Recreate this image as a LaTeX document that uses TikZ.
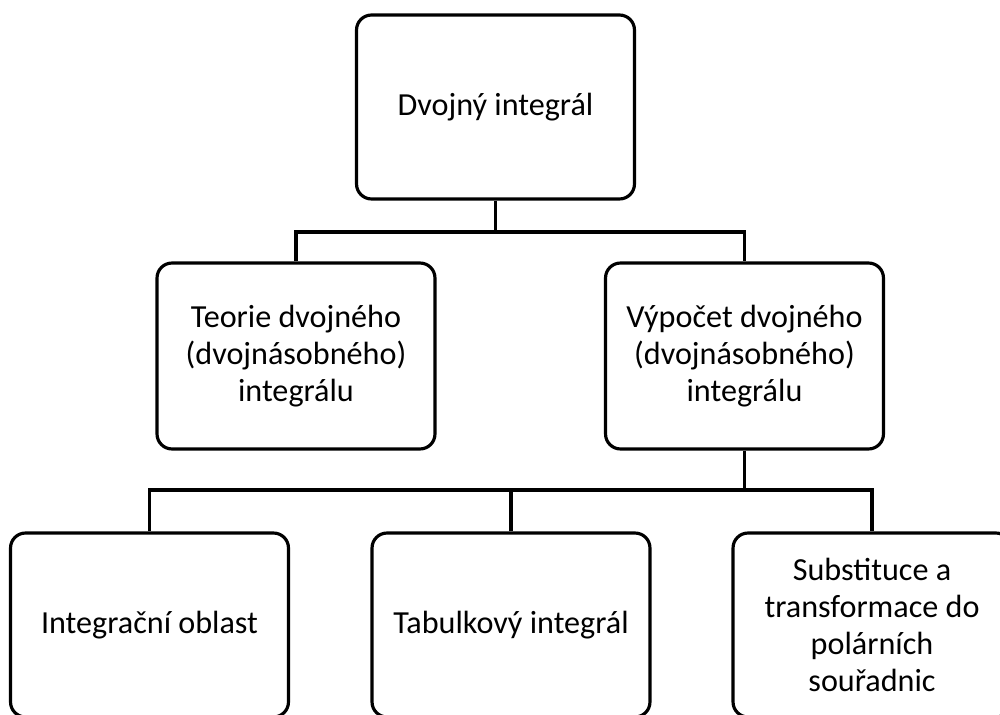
\documentclass[tikz,border=0pt]{standalone}
\usepackage{fontspec}
\setmainfont{Carlito}
\usetikzlibrary{positioning}

\tikzset{
	topic/.style={draw=black, line width=1.8pt, rounded corners=0.3cm, fill=white,
		minimum width=5.56cm, minimum height=3.68cm, align=center, inner sep=2pt,
		font=\fontsize{18.3}{21}\selectfont},
	branch/.style={draw=black, line width=1.8pt}
}

\begin{document}
\begin{tikzpicture}[x=0.02cm, y=-0.02cm]
		%%%%% START %%%%%
		
		\useasboundingbox (0, 0) rectangle (1000, 715);
		\clip (0, 0) rectangle (1000, 715);
		
		% top level
		\node[topic] (dvojny) at (495.5, 107) {Dvojný integrál};
		
		% second level
		\node[topic, minimum height=3.72cm] (teorie) at (296, 356) {Teorie dvojného\\(dvojnásobného)\\integrálu};
		\node[topic, minimum height=3.72cm] (vypocet) at (744.5, 356) {Výpočet dvojného\\(dvojnásobného)\\integrálu};
		
		% third level
		\node[topic] (oblast) at (149.5, 625) {Integrační oblast};
		\node[topic] (tabulka) at (511, 625) {Tabulkový integrál};
		\node[topic] (substituce) at (872, 625) {Substituce a\\transformace do\\polárních\\souřadnic};
		
		% branches
		\coordinate (horni) at (495.5, 232);
		\coordinate (dolni) at (744.5, 490);
		
		\draw[branch] (dvojny.south) -- (horni);
		\draw[branch] (teorie.north) |- (horni) -| (vypocet.north);
		
		\draw[branch] (vypocet.south) -- (dolni);
		\draw[branch] (oblast.north) |- (dolni) -| (substituce.north);
		\draw[branch] (tabulka.north) -- (tabulka.north |- dolni);
		
		%%%%% END %%%%%
	\end{tikzpicture}
\end{document}
